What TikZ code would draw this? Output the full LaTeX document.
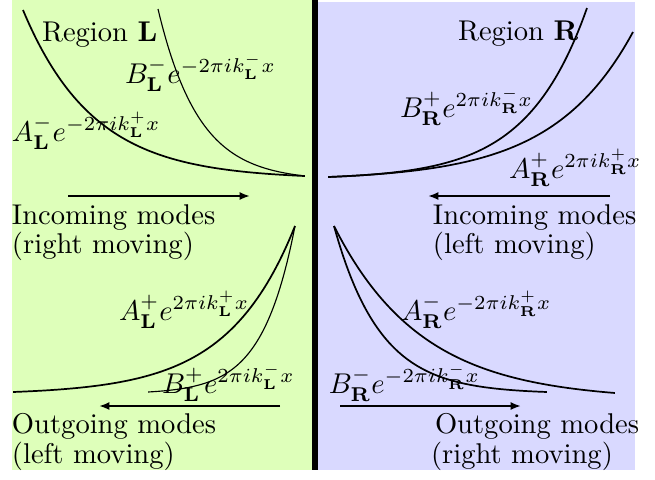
\documentclass[tikz,border=0pt]{standalone}
\usetikzlibrary{arrows.meta}
\definecolor{greenbg}{RGB}{222,255,186}
\definecolor{bluebg}{RGB}{217,217,255}
% exponential-shaped curve: [style]{steep x}{steep y}{flat x}{flat y}{rate}
\newcommand{\ecurve}[6][]{%
  \draw[#1] plot[domain=0:1,samples=90,variable=\t]
   ({#2+\t*(#4-#2)},{#5+(#3-#5)*(exp(-#6*\t)-exp(-#6))/(1-exp(-#6))});}
\begin{document}
\begin{tikzpicture}[x=0.35pt,y=-0.35pt,
  lbl/.style={anchor=base west,inner sep=0pt,outer sep=0pt},
  wave/.style={line width=0.6pt},
  wavethin/.style={line width=0.4pt},
  flow/.style={line width=0.8pt,-{Latex[length=3.6pt,width=2.8pt]}}]
\useasboundingbox (0,0) rectangle (655,479);
% backgrounds
\fill[greenbg] (12,0) rectangle (312,470);
\fill[bluebg] (318,2) rectangle (635,470);
\fill[black] (312,0) rectangle (318,470);

% ---- top left (incoming, right moving)
\ecurve[wave]{23}{10}{305}{176}{4.0}
\ecurve[wavethin]{158}{9}{305}{176}{3.6}
% ---- top right (incoming, left moving)
\ecurve[wave]{587}{8}{328}{177}{4.3}
\ecurve[wave]{633}{32}{328}{177}{3.8}
% ---- bottom left (outgoing, left moving)
\ecurve[wave]{295}{226}{13}{392}{4.2}
\ecurve[wavethin]{295}{226}{148}{392}{4.5}
% ---- bottom right (outgoing, right moving)
\ecurve[wave]{334}{226}{615}{393}{3.2}
\ecurve[wave]{334}{226}{547}{392}{4.6}

% labels
\node[lbl] (regL) at (42,41) {Region $\mathbf{L}$};
\node[lbl] (BLm) at (125,83) {$B^{-}_{\mathbf{L}}e^{-2\pi i k^{-}_{\mathbf{L}}x}$};
\node[lbl] (ALm) at (12,141) {$A^{-}_{\mathbf{L}}e^{-2\pi i k^{+}_{\mathbf{L}}x}$};
\node[lbl] (inL1) at (12,224) {Incoming modes};
\node[lbl] (inL2) at (12,253) {(right moving)};
\node[lbl] (ALp) at (119,320) {$A^{+}_{\mathbf{L}}e^{2\pi i k^{+}_{\mathbf{L}}x}$};
\node[lbl] (BLp) at (162,393) {$B^{+}_{\mathbf{L}}e^{2\pi i k^{-}_{\mathbf{L}}x}$};
\node[lbl] (outL1) at (12,433) {Outgoing modes};
\node[lbl] (outL2) at (12,463) {(left moving)};

\node[lbl] (regR) at (458,40) {Region $\mathbf{R}$};
\node[lbl] (BRp) at (400,117) {$B^{+}_{\mathbf{R}}e^{2\pi i k^{-}_{\mathbf{R}}x}$};
\node[lbl] (ARp) at (509,178) {$A^{+}_{\mathbf{R}}e^{2\pi i k^{+}_{\mathbf{R}}x}$};
\node[lbl] (inR1) at (433,224) {Incoming modes};
\node[lbl] (inR2) at (433,253) {(left moving)};
\node[lbl] (ARm) at (401,320) {$A^{-}_{\mathbf{R}}e^{-2\pi i k^{+}_{\mathbf{R}}x}$};
\node[lbl] (BRm) at (329,393) {$B^{-}_{\mathbf{R}}e^{-2\pi i k^{-}_{\mathbf{R}}x}$};
\node[lbl] (outR1) at (435,433) {Outgoing modes};
\node[lbl] (outR2) at (431,463) {(right moving)};

% arrows
\coordinate (a1s) at (68,196);  \coordinate (a1e) at (250,196);
\coordinate (a2s) at (610,196); \coordinate (a2e) at (428,196);
\coordinate (a3s) at (280,406); \coordinate (a3e) at (99,406);
\coordinate (a4s) at (340,406); \coordinate (a4e) at (521,406);
\draw[flow] (a1s) -- (a1e);
\draw[flow] (a2s) -- (a2e);
\draw[flow] (a3s) -- (a3e);
\draw[flow] (a4s) -- (a4e);
\end{tikzpicture}
\end{document}
